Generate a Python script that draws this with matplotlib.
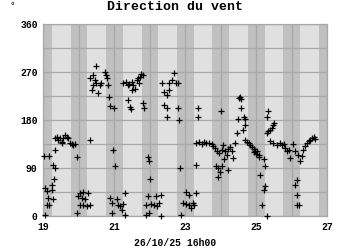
import numpy as np
import matplotlib.pyplot as plt

# relevés : jour (décimal) et direction du vent en degrés
days = [19.02, 19.15, 19.05, 19.05, 19.10, 19.10, 19.14, 19.17, 19.24, 19.24,
        19.26, 19.26, 19.30, 19.33, 19.33, 19.33, 19.38, 19.42, 19.47, 19.52,
        19.52, 19.56, 19.61, 19.66, 19.70, 19.75, 19.80, 19.85, 19.89, 19.94,
        19.96, 19.99, 20.03, 20.03, 20.08, 20.13, 20.13, 20.17, 20.22, 20.27,
        20.32, 20.32, 20.32, 20.36, 20.39, 20.41, 20.46, 20.50, 20.50, 20.55,
        20.60, 20.64, 20.74, 20.76, 20.79, 20.83, 20.86, 20.88, 20.88, 20.93,
        20.93, 20.97, 20.99, 21.02, 21.07, 21.11, 21.16, 21.21, 21.25, 21.25,
        21.30, 21.30, 21.33, 21.39, 21.39, 21.42, 21.44, 21.46, 21.49, 21.49,
        21.54, 21.58, 21.63, 21.66, 21.70, 21.72, 21.75, 21.80, 21.82, 21.85,
        21.89, 21.89, 21.94, 21.96, 21.97, 21.99, 22.01, 22.03, 22.13, 22.17,
        22.22, 22.27, 22.32, 22.32, 22.34, 22.41, 22.41, 22.48, 22.48, 22.50,
        22.55, 22.55, 22.64, 22.69, 22.74, 22.79, 22.79, 22.82, 22.85, 22.88,
        22.93, 23.02, 23.02, 23.11, 23.11, 23.16, 23.21, 23.25, 23.30, 23.30,
        23.32, 23.35, 23.35, 23.39, 23.47, 23.54, 23.60, 23.68, 23.75, 23.79,
        23.85, 23.87, 23.91, 23.94, 23.94, 23.96, 23.98, 24.01, 24.03, 24.03,
        24.07, 24.10, 24.13, 24.17, 24.20, 24.22, 24.26, 24.32, 24.36, 24.41,
        24.46, 24.50, 24.52, 24.55, 24.58, 24.58, 24.64, 24.67, 24.69, 24.69,
        24.69, 24.74, 24.79, 24.83, 24.88, 24.93, 24.93, 24.97, 24.99, 25.02,
        25.07, 25.08, 25.11, 25.16, 25.21, 25.21, 25.25, 25.25, 25.30, 25.30,
        25.30, 25.33, 25.35, 25.39, 25.39, 25.44, 25.49, 25.49, 25.51, 25.58,
        25.68, 25.72, 25.80, 25.82, 25.86, 25.93, 25.96, 26.03, 26.10, 26.10,
        26.15, 26.15, 26.15, 26.19, 26.21, 26.24, 26.29, 26.33, 26.38, 26.43,
        26.48, 26.52, 26.57, 26.62, 26.66]
dirs = [112, 112, 2, 52, 46, 20, 34, 20, 49, 59,
        31, 96, 70, 90, 124, 146, 149, 143, 147, 139,
        136, 146, 152, 149, 146, 136, 135, 134, 135, 111,
        6, 37, 43, 21, 34, 45, 20, 31, 18, 43,
        20, 143, 258, 236, 246, 264, 255, 282, 249, 231,
        246, 249, 270, 264, 258, 246, 224, 206, 34, 24,
        6, 124, 202, 94, 32, 21, 18, 12, 22, 249,
        43, 2, 251, 246, 218, 248, 205, 200, 236, 252,
        246, 239, 255, 258, 249, 261, 266, 264, 211, 202,
        21, 1, 37, 111, 103, 6, 70, 22, 20, 37,
        18, 24, 40, 0, 249, 233, 208, 202, 185, 227,
        236, 249, 255, 269, 249, 249, 202, 180, 90, 2,
        24, 45, 22, 39, 20, 15, 24, 20, 43, 137,
        96, 202, 185, 139, 135, 139, 137, 137, 135, 131,
        128, 93, 122, 90, 74, 118, 83, 196, 124, 93,
        133, 106, 121, 115, 87, 126, 130, 121, 109, 137,
        156, 181, 221, 224, 219, 202, 162, 186, 171, 143,
        181, 139, 137, 134, 129, 126, 120, 122, 116, 121,
        110, 114, 77, 20, 106, 49, 93, 56, 0, 156,
        185, 197, 159, 162, 141, 165, 171, 137, 174, 134,
        137, 133, 135, 128, 121, 124, 109, 135, 121, 59,
        68, 40, 20, 115, 20, 103, 112, 124, 131, 137,
        140, 143, 146, 149, 145]

# nuits (bandes sombres)
night_start = [19.00, 19.77, 20.77, 21.77, 22.77, 23.77, 24.77, 25.77, 26.77]
night_end = [19.24, 20.24, 21.24, 22.24, 23.24, 24.24, 25.24, 26.24, 27.00]

x_ticks = [19, 20, 21, 22, 23, 24, 25, 26, 27]
x_labels = ['19', '', '21', '', '23', '', '25', '', '27']
y_ticks = [0, 45, 90, 135, 180, 225, 270, 315, 360]
y_labels = ['0', '', '90', '', '180', '', '270', '', '360']

font = 'Liberation Mono'

fig = plt.figure(figsize=(3.5, 2.5), dpi=100)
ax = fig.add_axes([43.3 / 350, 34 / 250, 283.7 / 350, 192 / 250])
ax.set_facecolor('#e0e0e0')

for s, e in zip(night_start, night_end):
    ax.axvspan(s, e, color='#c0c0c0', lw=0, zorder=0)

ax.set_xlim(19, 27)
ax.set_ylim(0, 360)
ax.set_xticks(x_ticks)
ax.set_xticklabels(x_labels)
ax.set_yticks(y_ticks)
ax.set_yticklabels(y_labels)
ax.grid(True, color='#a8a8a8', lw=0.9, zorder=1)
ax.set_axisbelow(True)
ax.tick_params(length=0, labelsize=7, pad=4)
for lab in ax.get_xticklabels() + ax.get_yticklabels():
    lab.set_fontfamily(font)
    lab.set_fontweight('bold')
for sp in ax.spines.values():
    sp.set_color('#a8a8a8')
    sp.set_linewidth(0.9)

ax.plot(days, dirs, '+', color='black', ms=5, mew=0.9, clip_on=False, zorder=3)

fig.text(0.5, 1 - 7.5 / 250, 'Direction du vent', ha='center', va='center',
         fontsize=9.5, fontfamily=font, fontweight='bold')
fig.text(12 / 350, 1 - 6 / 250, '°', ha='center', va='center',
         fontsize=7, fontfamily=font)
fig.text(175 / 350, 1 - 243 / 250, '26/10/25 16h00', ha='center', va='center',
         fontsize=7, fontfamily=font, fontweight='bold')

fig.savefig('out.png', dpi=100)
